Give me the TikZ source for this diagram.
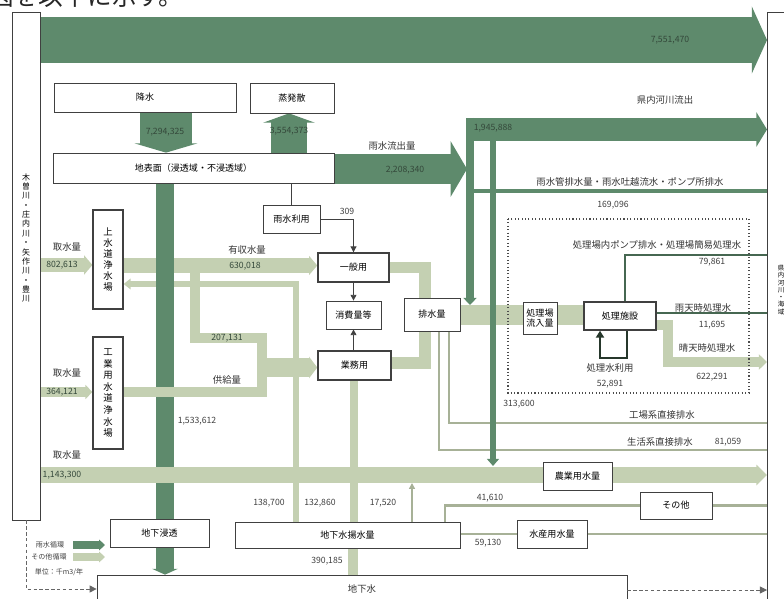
\documentclass[tikz,border=0pt]{standalone}
\usepackage{fontspec}
\setmainfont{Noto Sans CJK JP}
\usetikzlibrary{arrows.meta}
\pgfdeclarelayer{bg}
\pgfsetlayers{bg,main}
\definecolor{rainc}{RGB}{94,138,108}
\definecolor{otherc}{RGB}{196,208,178}
\definecolor{numc}{RGB}{52,72,58}

\begin{document}
\begin{tikzpicture}[x=0.03cm, y=-0.03cm,
  box/.style={draw=black!75, fill=white, line width=0.6pt, inner sep=0pt, font=\fontsize{7.7}{9}\selectfont},
  boldbox/.style={box, line width=1.2pt},
  vtext/.style={align=center, inner sep=0pt},
  lbl/.style={inner sep=0pt, font=\fontsize{8}{9}\selectfont, text=black!80},
  num/.style={inner sep=0pt, font=\fontsize{7.4}{8}\selectfont, text=black!75},
  bandnum/.style={num, text=numc},
  rain/.style={draw=rainc},
  other/.style={draw=otherc},
  wire/.style={draw=black!75, line width=0.8pt},
  rainwire/.style={draw=rainc!75!black, line width=1.5pt},
  otherwire/.style={draw=otherc!85!black, line width=2pt},
  dashline/.style={draw=black!60, line width=0.7pt, dash pattern=on 3pt off 2pt}]
\useasboundingbox (0,0) rectangle (784,599);
\clip (0,0) rectangle (784,599);

\node[anchor=west, inner sep=0pt, font=\fontsize{21}{21}\selectfont, text=black!85] (heading) at (-11,-3) {図を以下に示す。};

% rivers
\node[box, minimum width=0.84cm, minimum height=15.24cm] (riverL) at (26,266) {};
\node[vtext, font=\fontsize{6.8}{8}\selectfont] (riverLname) at (26,238) {木\\曽\\川\\・\\庄\\内\\川\\・\\矢\\作\\川\\・\\豊\\川};
\node[box, anchor=north west, minimum width=1.2cm, minimum height=18.5cm] (riverR) at (767,12) {};
\node[vtext, font=\fontsize{5.5}{6.2}\selectfont] (riverRname) at (781,290) {県\\内\\河\\川\\・\\海\\域};

% boxes
\node[box, minimum width=5.46cm, minimum height=0.87cm] (kousui) at (145,97.5) {降水};
\node[box, minimum width=2.52cm, minimum height=0.9cm] (jouhatsu) at (292,98) {蒸発散};
\node[box, minimum width=8.43cm, minimum height=0.9cm] (chihyo) at (193.5,168) {地表面（浸透域・不浸透域）};
\node[box, minimum width=1.71cm, minimum height=0.84cm] (usui) at (291.5,219) {雨水利用};
\node[box, vtext, line width=1pt, minimum width=0.9cm, minimum height=2.97cm, font=\fontsize{8}{9.5}\selectfont] (jousui) at (108,259.5) {上\\水\\道\\浄\\水\\場};
\node[box, vtext, line width=1pt, minimum width=0.9cm, minimum height=3.36cm, font=\fontsize{8}{9.9}\selectfont] (kougyo) at (108,393) {工\\業\\用\\水\\道\\浄\\水\\場};
\node[boldbox, minimum width=2.13cm, minimum height=0.87cm] (ippan) at (353.5,267.5) {一般用};
\node[box, minimum width=1.65cm, minimum height=0.84cm] (shouhi) at (353.5,315) {消費量等};
\node[boldbox, minimum width=2.19cm, minimum height=0.87cm] (gyomu) at (354.5,365.5) {業務用};
\node[box, minimum width=1.68cm, minimum height=0.99cm] (haisui) at (432,314.5) {排水量};
\node[box, vtext, minimum width=1.02cm, minimum height=0.96cm] (ryunyu) at (540,318) {処理場\\流入量};
\node[boldbox, minimum width=2.16cm, minimum height=0.84cm] (shisetsu) at (620,316) {処理施設};
\node[box, minimum width=2.07cm, minimum height=0.84cm] (nougyo) at (577.5,476) {農業用水量};
\node[box, minimum width=2.16cm, minimum height=0.81cm] (sonota) at (676,505.5) {その他};
\node[box, minimum width=2.1cm, minimum height=0.84cm] (suisan) at (552,534) {水産用水量};
\node[box, minimum width=2.97cm, minimum height=0.84cm] (shinto) at (159.5,533) {地下浸透};
\node[box, minimum width=6.75cm, minimum height=0.78cm] (yousui) at (347.5,535) {地下水揚水量};
\node[box, minimum width=15.9cm, minimum height=1.65cm] (chikasui) at (362,602.5) {};
\node[lbl] (chikasuiname) at (362,589) {地下水};

\coordinate (trunkTop) at (466,129.5);
\coordinate (trunkIn) at (467,169);
\coordinate (sewerIn) at (470,305);
\coordinate (split) at (195,266);
\coordinate (supplyIn) at (257,367.5);

\begin{pgfonlayer}{bg}
% other cycle, lower
\draw[other, line width=12.75pt, -{Triangle[width=16pt,length=7pt]}] (riverL.east |- 0,265) -- (jousui.west |- 0,265);
\draw[other, line width=12.75pt, -{Triangle[width=16pt,length=7pt]}] (jousui.east |- 0,265.5) -- (ippan.west |- 0,265.5);
\draw[other, line width=5pt, -{Triangle[width=9pt,length=6pt]}] (yousui.north -| 296,0) |- (jousui.east |- 0,284);
\draw[other, line width=8.5pt] (split) |- (262,338) -- (262,372);
\draw[other, line width=16pt, -{Triangle[width=18pt,length=7pt]}] (supplyIn) -- (gyomu.west |- 0,367.5);
\draw[other, line width=9.4pt] (ippan.east |- 0,267.5) -| (haisui.north -| 425,0);
\draw[other, line width=9.4pt] (gyomu.east |- 0,363) -| (haisui.south -| 425,0);
\draw[other, line width=17pt] (haisui.east |- 0,315) -- (ryunyu.west |- 0,315);
\draw[other, line width=17pt] (ryunyu.east |- 0,315) -- (shisetsu.west |- 0,315);
\draw[otherwire] (haisui.south -| 449,0) |- (riverR.west |- 0,423);
\draw[otherwire] (haisui.south -| 439,0) |- (riverR.west |- 0,450);
\draw[other, line width=6.8pt] (yousui.north -| 354,0) -- (gyomu.south -| 354,0);
\draw[other, line width=8.5pt] (chikasui.north -| 353,0) -- (yousui.south -| 353,0);
\draw[otherwire, -{Triangle[width=5pt,length=5pt]}] (yousui.north -| 412,0) -- (412,483);
\draw[otherwire] (yousui.north -| 445,0) |- (sonota.west);
\draw[otherwire] (sonota.east) -- (riverR.west |- sonota.east);
\draw[otherwire] (yousui.east |- suisan.west) -- (suisan.west);
\draw[otherwire] (suisan.east) -- (riverR.west |- suisan.east);
\draw[other, line width=8.5pt, -{Triangle[width=13pt,length=7pt]}] (shisetsu.east |- 0,325) -| (668,362) -- (riverR.west |- 0,362);
% rain cycle
\draw[rain, line width=39pt, -{Triangle[width=57pt,length=13pt]}] (riverL.east |- 0,40) -- (riverR.west |- 0,40);
\draw[rain, line width=44pt, -{Triangle[width=54pt,length=8pt]}] (kousui.south -| 166,0) -- (chihyo.north -| 166,0);
\draw[rain, line width=31pt, -{Triangle[width=44pt,length=8pt]}] (chihyo.north -| 289,0) -- (jouhatsu.south -| 289,0);
\draw[rain, line width=25.5pt, -{Triangle[width=47pt,length=14pt]}] (chihyo.east |- 0,169) -- (trunkIn);
\draw[rain, line width=19.5pt, -{Triangle[width=29pt,length=9pt]}] (trunkTop) -- (riverR.west |- 0,129.5);
\draw[rain, line width=6.8pt, -{Triangle[width=11pt,length=6pt]}] (470,118) -- (sewerIn);
\draw[rain, line width=5pt, -{Triangle[width=10pt,length=6pt]}] (493,140) -- (493,466);
\draw[rain, line width=3.4pt] (474,191) -- (riverR.west |- 0,191);
\draw[rain, line width=15.3pt, -{Triangle[width=22pt,length=5pt]}] (chihyo.south -| 165,0) -- (chikasui.north -| 165,0);
\draw[rainwire] (shisetsu.north -| 625,0) |- (riverR.west |- 0,255);
\draw[rainwire] (shisetsu.east |- 0,313) -- (riverR.west |- 0,313);
\draw[rainwire, draw=rainc!40!black, -{Triangle[width=7pt,length=6pt]}] (shisetsu.south -| 627,0) |- (600,358) -- (shisetsu.south -| 600,0);
% other cycle, upper
\draw[other, line width=8.5pt, -{Triangle[width=12pt,length=6pt]}] (riverL.east |- 0,392) -- (kougyo.west |- 0,392);
\draw[other, line width=8.5pt] (kougyo.east |- 0,392) -| (supplyIn -| 262,0);
\draw[other, line width=13.6pt, -{Triangle[width=17pt,length=9pt]}] (riverL.east |- 0,475) -- (riverR.west |- 0,475);
\end{pgfonlayer}

% thin links
\draw[wire] (chihyo.south -| usui) -- (usui.north);
\draw[wire, -{Triangle[width=5pt,length=5pt]}] (usui.east) -| (ippan.north);
\draw[wire, -{Triangle[width=5pt,length=5pt]}] (ippan.south) -- (shouhi.north);
\draw[wire, -{Triangle[width=5pt,length=5pt]}] (gyomu.north -| shouhi) -- (shouhi.south);
\draw[dotted, black!70, line width=0.9pt] (508,219) rectangle (749,393);
\draw[dashline, -{Triangle[width=6pt,length=6pt]}] (riverL.south) |- (chikasui.west |- 0,589);
\draw[dashline, -{Triangle[width=6pt,length=6pt]}] (chikasui.east |- 0,590) -- (riverR.west |- 0,590);

% labels
\node[bandnum] (n1) at (670,40) {7,551,470};
\node[bandnum] (n2) at (165,132) {7,294,325};
\node[bandnum] (n3) at (289,131) {3,554,373};
\node[lbl] (l1) at (392,146) {雨水流出量};
\node[bandnum] (n4) at (405,170) {2,208,340};
\node[lbl] (l2) at (665,100) {県内河川流出};
\node[bandnum] (n5) at (493,128) {1,945,888};
\node[lbl] (l3) at (630,182) {雨水管排水量・雨水吐越流水・ポンプ所排水};
\node[num] (n6) at (613,205) {169,096};
\node[num] (n7) at (347,211) {309};
\node[lbl] (l4) at (67,247) {取水量};
\node[bandnum] (n8) at (62,265) {802,613};
\node[lbl] (l5) at (247,250) {有収水量};
\node[bandnum] (n9) at (245,266) {630,018};
\node[bandnum] (n10) at (227,338) {207,131};
\node[lbl] (l6) at (227,380) {供給量};
\node[lbl] (l7) at (67,373) {取水量};
\node[bandnum] (n11) at (62,392) {364,121};
\node[num] (n12) at (197,421) {1,533,612};
\node[lbl] (l8) at (67,455) {取水量};
\node[bandnum] (n13) at (62,475) {1,143,300};
\node[lbl] (l9) at (657,245) {処理場内ポンプ排水・処理場簡易処理水};
\node[num] (n14) at (712,262) {79,861};
\node[lbl] (l10) at (703,308) {雨天時処理水};
\node[num] (n15) at (712,325) {11,695};
\node[lbl] (l11) at (707,348) {晴天時処理水};
\node[num] (n16) at (712,377) {622,291};
\node[lbl] (l12) at (610,368) {処理水利用};
\node[num] (n17) at (610,384) {52,891};
\node[num] (n18) at (519,404) {313,600};
\node[lbl] (l13) at (662,415) {工場系直接排水};
\node[lbl] (l14) at (660,442) {生活系直接排水};
\node[num] (n19) at (728,442) {81,059};
\node[num] (n20) at (490,498) {41,610};
\node[num] (n21) at (488,543) {59,130};
\node[num] (n22) at (269,503) {138,700};
\node[num] (n23) at (320,503) {132,860};
\node[num] (n24) at (383,503) {17,520};
\node[num] (n25) at (327,561) {390,185};

% legend
\node[inner sep=0pt, font=\fontsize{6}{7}\selectfont, text=black!75] (legRain) at (50,545) {雨水循環};
\node[inner sep=0pt, font=\fontsize{6}{7}\selectfont, text=black!75] (legOther) at (49,557) {その他循環};
\node[inner sep=0pt, font=\fontsize{6}{7}\selectfont, text=black!75] (legUnit) at (59,572) {単位：千m3/年};
\draw[rain, line width=6.8pt, -{Triangle[width=9pt,length=5pt]}] (legRain.east -| 73,0) -- (legRain.east -| 105,0);
\draw[other, line width=6.8pt, -{Triangle[width=9pt,length=5pt]}] (legOther.east -| 73,0) -- (legOther.east -| 105,0);
\end{tikzpicture}
\end{document}
